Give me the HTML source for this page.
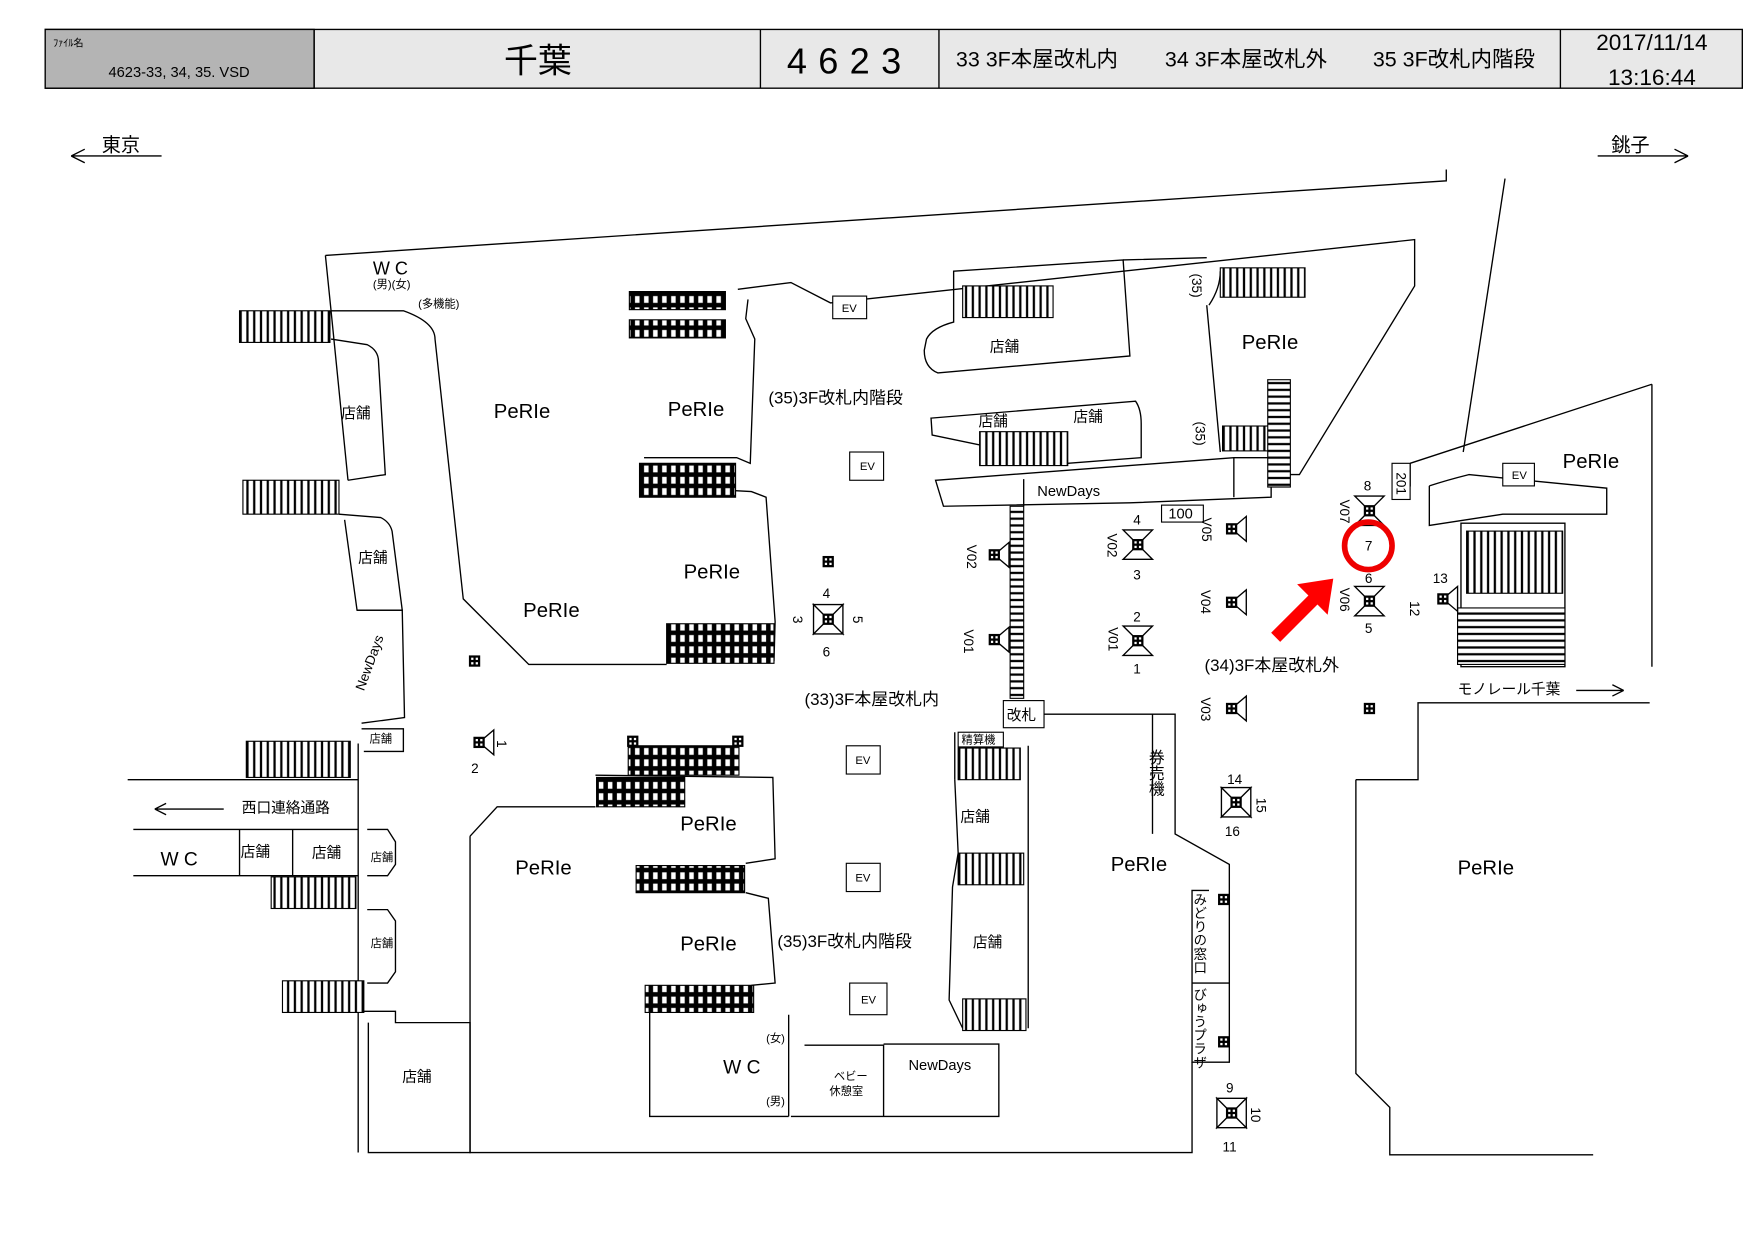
<!DOCTYPE html>
<html><head><meta charset="utf-8"><style>
html,body{margin:0;padding:0;background:#fff;width:1757px;height:1243px;overflow:hidden}
svg{display:block}
text{font-family:"Liberation Sans","Noto Sans CJK JP",sans-serif;fill:#000}
</style></head><body>
<svg width="1757" height="1243" viewBox="0 0 1555 1100" xmlns="http://www.w3.org/2000/svg">
<defs>
<pattern id="st" width="6" height="10" patternUnits="userSpaceOnUse"><rect width="6" height="10" fill="#fff"/><line x1="3" y1="0" x2="3" y2="10" stroke="#000" stroke-width="2"/></pattern>
<pattern id="sth" width="10" height="6" patternUnits="userSpaceOnUse"><rect width="10" height="6" fill="#fff"/><line x1="0" y1="3" x2="10" y2="3" stroke="#000" stroke-width="2"/></pattern>
<pattern id="esc" width="8" height="10" patternUnits="userSpaceOnUse"><rect width="8" height="10" fill="#000"/><rect x="2" y="2" width="4" height="6" fill="#fff"/></pattern>
<g id="cam"><rect x="-5" y="-5" width="10" height="10" fill="#000"/><rect x="-3" y="-3" width="2" height="2" fill="#fff"/><rect x="1" y="-3" width="2" height="2" fill="#fff"/><rect x="-3" y="1" width="2" height="2" fill="#fff"/><rect x="1" y="1" width="2" height="2" fill="#fff"/></g>
<g id="x4"><path d="M-13,-13 L13,-13 L0,0 Z M-13,13 L13,13 L0,0 Z M-13,-13 L-13,13 L0,0 Z M13,-13 L13,13 L0,0Z" fill="#fff" stroke="#000" stroke-width="1.2"/><use href="#cam"/></g>
<g id="x2"><path d="M-13,-13 L13,-13 L0,0 Z M-13,13 L13,13 L0,0 Z" fill="#fff" stroke="#000" stroke-width="1.2"/><use href="#cam"/></g>
<g id="tl"><path d="M0,0 L-13,-11 L-13,11 Z" fill="#fff" stroke="#000" stroke-width="1.2"/><use href="#cam"/></g>
</defs>
<g stroke="#000" stroke-width="1.2" fill="none">
<!-- header -->
<rect x="40" y="26" width="1502" height="52" fill="#e8e8e8"/>
<rect x="40" y="26" width="238" height="52" fill="#b4b4b4"/>
<line x1="278" y1="26" x2="278" y2="78"/><line x1="673" y1="26" x2="673" y2="78"/><line x1="831" y1="26" x2="831" y2="78"/><line x1="1381" y1="26" x2="1381" y2="78"/>
<!-- direction arrows -->
<path d="M63,138 H143 M63,138 l12,-6 M63,138 l12,6"/>
<path d="M1414,138 H1494 M1494,138 l-12,-6 M1494,138 l-12,6"/>
<path d="M1395,611 H1437 l-10,-5 M1437,611 l-10,5"/>
<path d="M137,716 H198 M137,716 l10,-5 M137,716 l10,5"/>
<!-- outer structure -->
<path d="M288,226 L1280,160 L1280,150"/>
<path d="M288,226 L293,275 M1332,158 L1295,400 M1462,340 L1462,590 M1248,410 L1462,340"/>
<path d="M293,275 L357,275 Q385,285 385,300 L410,530 L468,588 L590,588"/>
<path d="M293,275 L308,425 M293,300 L325,305 Q335,310 335,320 L341,420 L308,425"/>
<path d="M300,455 L337,458 Q345,462 347,470 L356,540 L316,540 L305,460"/>
<path d="M316,540 L356,540 L358,635 L320,640"/>
<path d="M320,645 L357,645 L357,665 L322,665"/>
<path d="M113,690 L317,690 M118,734 L317,734 M118,775 L317,775 M317,658 L317,1020"/>
<path d="M212,734 V775 M259,734 V775 M325,734 H343 L350,745 V765 L343,775 H325"/>
<path d="M325,805 H343 L350,815 V860 L343,870 H325"/>
<path d="M320,895 L350,895 L350,905 L416,905 L416,1020 L326,1020 L326,905"/>
<path d="M416,740 L440,714 L527,714 M527,686 L684,688 L686,760 L660,764"/>
<path d="M416,740 V1020 L1055,1020 L1055,940 M575,895 V988 H698 M698,898 V988 M712,925 H782 V988 M782,924 H884 V988 H700"/>
<path d="M660,790 L680,795 L686,870 L665,872"/>
<path d="M570,405 L652,405 L664,410 L668,300 L660,282 L662,265"/>
<path d="M610,432 L665,435 L678,440 L686,550 L685,585"/>
<path d="M653,256 L700,250 L735,268 L1252,212 L1252,253 L1150,420 L1133,420"/>
<path d="M844,240 L994,230 L1000,315 L830,330 Q818,325 818,310 L820,300 Q825,290 844,285 Z"/>
<path d="M994,230 L1068,228 M1068,270 L1080,400 M1070,270 Q1080,255 1080,240"/>
<path d="M824,370 L1005,355 Q1010,362 1010,375 L1010,405 L945,410 L825,385 Z"/>
<path d="M828,425 L1092,405 L1125,405 L1125,440 L1000,445 L835,448 Z"/>
<path d="M906,424 V448 M1092,405 V440"/>
<path d="M924,632 L1040,632 L1040,738 L1088,765 L1088,940 L1055,940 L1055,788 L1070,788"/>
<path d="M1020,632 V738 M1055,870 H1088"/>
<path d="M1200,690 L1255,690 L1255,622 L1460,622 M1200,690 L1200,950 L1230,980 L1230,1022 L1410,1022"/>
<path d="M1248,410 L1248,430 L1232,432 M1265,430 L1265,465 L1330,455 L1422,455 L1422,432 L1300,420 Q1280,425 1265,430"/>
<path d="M845,648 V690 M845,690 L848,755 L843,785 L840,885 L852,910 M910,660 V910"/>
<rect x="1293" y="463" width="92" height="127" fill="#fff"/>
</g>
<!-- stairs/escalators -->
<g stroke="#000" stroke-width="1">
<rect x="212" y="275" width="80" height="28" fill="url(#st)"/>
<rect x="215" y="425" width="85" height="30" fill="url(#st)"/>
<rect x="218" y="656" width="92" height="32" fill="url(#st)"/>
<rect x="240" y="776" width="75" height="28" fill="url(#st)"/>
<rect x="250" y="868" width="72" height="28" fill="url(#st)"/>
<rect x="557" y="258" width="85" height="16" fill="url(#esc)"/>
<rect x="557" y="283" width="85" height="16" fill="url(#esc)"/>
<rect x="566" y="410" width="85" height="30" fill="url(#esc)"/>
<rect x="590" y="552" width="95" height="35" fill="url(#esc)"/>
<rect x="556" y="660" width="98" height="26" fill="url(#esc)"/>
<rect x="528" y="688" width="78" height="26" fill="url(#esc)"/>
<rect x="563" y="766" width="96" height="24" fill="url(#esc)"/>
<rect x="571" y="872" width="96" height="24" fill="url(#esc)"/>
<rect x="852" y="253" width="80" height="28" fill="url(#st)"/>
<rect x="867" y="382" width="78" height="30" fill="url(#st)"/>
<rect x="1080" y="237" width="75" height="26" fill="url(#st)"/>
<rect x="1082" y="377" width="45" height="22" fill="url(#st)"/>
<rect x="1122" y="336" width="20" height="95" fill="url(#sth)"/>
<rect x="848" y="662" width="55" height="28" fill="url(#st)"/>
<rect x="848" y="755" width="58" height="28" fill="url(#st)"/>
<rect x="852" y="884" width="56" height="28" fill="url(#st)"/>
<rect x="1298" y="470" width="85" height="55" fill="url(#st)"/>
<rect x="1290" y="538" width="95" height="50" fill="url(#sth)"/>
<rect x="894" y="448" width="12" height="170" fill="url(#sth)"/>
</g>
<g stroke="#000" fill="#fff" stroke-width="1">
<rect x="737" y="262" width="30" height="20"/><rect x="752" y="400" width="30" height="25"/>
<rect x="749" y="660" width="30" height="25"/><rect x="749" y="764" width="30" height="25"/><rect x="752" y="870" width="33" height="28"/>
<rect x="1330" y="410" width="28" height="20"/>
<rect x="888" y="620" width="36" height="24"/><rect x="848" y="648" width="40" height="13"/>
<rect x="1028" y="447" width="37" height="15"/><rect x="1232" y="410" width="16" height="32"/>
</g>
<!-- cameras -->
<use href="#x4" x="733" y="548"/><use href="#x2" x="1007" y="482"/><use href="#x2" x="1007" y="567"/>
<use href="#x2" x="1212" y="452"/><use href="#x2" x="1212" y="532"/><use href="#x4" x="1094" y="710"/><use href="#x4" x="1090" y="985"/>
<use href="#tl" x="424" y="657" transform="rotate(180 424 657)"/>
<use href="#tl" x="880" y="491" transform="rotate(180 880 491)"/><use href="#tl" x="880" y="566" transform="rotate(180 880 566)"/>
<use href="#tl" x="1090" y="468" transform="rotate(180 1090 468)"/><use href="#tl" x="1090" y="533" transform="rotate(180 1090 533)"/><use href="#tl" x="1090" y="627" transform="rotate(180 1090 627)"/>
<use href="#tl" x="1277" y="530" transform="rotate(180 1277 530)"/>
<use href="#cam" x="733" y="497"/><use href="#cam" x="420" y="585"/><use href="#cam" x="1212" y="627"/><use href="#cam" x="1083" y="796"/><use href="#cam" x="1083" y="922"/><use href="#cam" x="653" y="656"/><use href="#cam" x="560" y="656"/>
<circle cx="1211" cy="483" r="21" fill="none" stroke="#e00" stroke-width="5"/>
<path d="M1125,560 L1158,527 L1148,517 L1180,512 L1175,544 L1166,535 L1133,568 Z" fill="#f00"/>
<!-- text -->
<g font-size="10"><text x="47" y="41" font-size="9">ﾌｧｲﾙ名</text><text x="96" y="68" font-size="13">4623-33, 34, 35. VSD</text></g>
<text x="476" y="64" font-size="30" text-anchor="middle">千葉</text>
<text x="752" y="65" font-size="32" text-anchor="middle" letter-spacing="10">4623</text>
<text x="846" y="59" font-size="19">33  3F本屋改札内</text><text x="1031" y="59" font-size="19">34  3F本屋改札外</text><text x="1215" y="59" font-size="19">35  3F改札内階段</text>
<text x="1462" y="44" font-size="20" text-anchor="middle">2017/11/14</text><text x="1462" y="75" font-size="20" text-anchor="middle">13:16:44</text>
<text x="90" y="134" font-size="17">東京</text><text x="1426" y="134" font-size="17">銚子</text>
<g font-size="18"><text x="437" y="370">PeRIe</text><text x="591" y="368">PeRIe</text><text x="605" y="512">PeRIe</text><text x="463" y="546">PeRIe</text><text x="1099" y="309">PeRIe</text><text x="1383" y="414">PeRIe</text>
<text x="602" y="735">PeRIe</text><text x="456" y="774">PeRIe</text><text x="602" y="841">PeRIe</text><text x="983" y="771">PeRIe</text><text x="1290" y="774">PeRIe</text></g>
<g font-size="13"><text x="302" y="370">店舗</text><text x="317" y="498">店舗</text><text x="876" y="311">店舗</text><text x="866" y="377">店舗</text><text x="950" y="373">店舗</text>
<text x="213" y="758">店舗</text><text x="276" y="759">店舗</text><text x="850" y="727">店舗</text><text x="861" y="838">店舗</text><text x="356" y="957">店舗</text>
<text x="918" y="439">NewDays</text><text x="804" y="947">NewDays</text><text x="214" y="719">西口連絡通路</text><text x="1290" y="614">モノレール千葉</text>
<text x="891" y="637">改札</text></g>
<g font-size="10"><text x="327" y="657">店舗</text><text x="328" y="762">店舗</text><text x="328" y="838">店舗</text><text x="851" y="658">精算機</text><text x="1338" y="424">EV</text>
<text x="745" y="276">EV</text><text x="761" y="416">EV</text><text x="757" y="676">EV</text><text x="757" y="780">EV</text><text x="762" y="888">EV</text>
<text x="370" y="272">(多機能)</text><text x="330" y="255">(男)(女)</text><text x="738" y="956">ベビー</text><text x="734" y="969">休憩室</text><text x="678" y="922">(女)</text><text x="678" y="978">(男)</text></g>
<text x="330" y="243" font-size="16">W C</text><text x="142" y="766" font-size="17">W C</text><text x="640" y="950" font-size="17">W C</text>
<g font-size="15"><text x="680" y="357">(35)3F改札内階段</text><text x="712" y="624">(33)3F本屋改札内</text><text x="688" y="838">(35)3F改札内階段</text><text x="1066" y="594">(34)3F本屋改札外</text>
<text x="1034" y="459" font-size="13">100</text></g>
<text x="1022" y="663" font-size="14" writing-mode="tb">券売機</text>
<text x="1061" y="790" font-size="12" writing-mode="tb">みどりの窓口</text><text x="1061" y="874" font-size="12" writing-mode="tb">びゅうプラザ</text>
<text font-size="12" transform="translate(322,612) rotate(-70)">NewDays</text>
<g font-size="12"><text x="728" y="529">4</text><text x="728" y="581">6</text><text x="1003" y="464">4</text><text x="1003" y="513">3</text><text x="1003" y="550">2</text><text x="1003" y="596">1</text>
<text x="1207" y="434">8</text><text x="1208" y="487">7</text><text x="1208" y="516">6</text><text x="1208" y="560">5</text><text x="1268" y="516">13</text><text x="417" y="684">2</text>
<text x="1086" y="694">14</text><text x="1084" y="740">16</text><text x="1085" y="967">9</text><text x="1082" y="1019">11</text>
<text transform="translate(856,482) rotate(90)">V02</text><text transform="translate(853,557) rotate(90)">V01</text><text transform="translate(980,472) rotate(90)">V02</text><text transform="translate(981,555) rotate(90)">V01</text>
<text transform="translate(1064,458) rotate(90)">V05</text><text transform="translate(1063,522) rotate(90)">V04</text><text transform="translate(1063,617) rotate(90)">V03</text>
<text transform="translate(1186,442) rotate(90)">V07</text><text transform="translate(1186,520) rotate(90)">V06</text>
<text transform="translate(1236,418) rotate(90)">201</text><text transform="translate(1055,242) rotate(90)">(35)</text><text transform="translate(1058,373) rotate(90)">(35)</text>
<text transform="translate(702,545) rotate(90)">3</text><text transform="translate(755,545) rotate(90)">5</text><text transform="translate(1248,532) rotate(90)">12</text><text transform="translate(1112,706) rotate(90)">15</text><text transform="translate(1107,980) rotate(90)">10</text><text transform="translate(440,655) rotate(90)">1</text></g>
</svg>
</body></html>
